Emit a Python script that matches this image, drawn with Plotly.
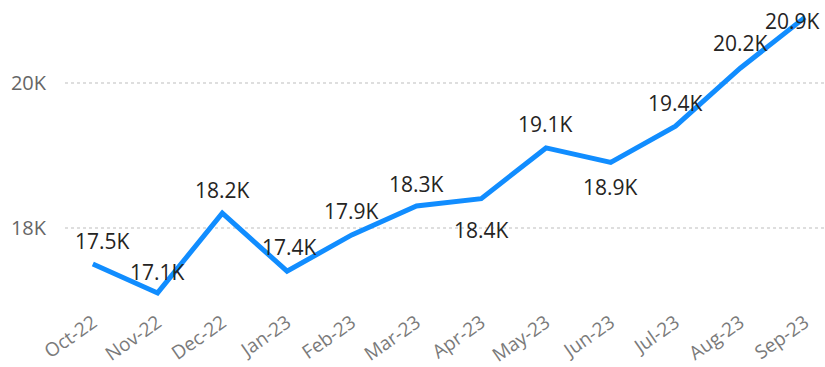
import plotly.graph_objects as go

months = ["Oct-22", "Nov-22", "Dec-22", "Jan-23", "Feb-23", "Mar-23",
          "Apr-23", "May-23", "Jun-23", "Jul-23", "Aug-23", "Sep-23"]
values_k = [17.5, 17.1, 18.2, 17.4, 17.9, 18.3, 18.4, 19.1, 18.9, 19.4, 20.2, 20.9]
label_shift = [23, 21, 23, 24, 24, 22, -31, 24, -25, 23, 25, -4]
label_xshift = [10, 0, 0, 2, 0, 0, 0, 0, 0, 0, 0, -12]
y_ticks = [18, 20]
y_tick_text = ["18K", "20K"]

FONT = "Open Sans"

fig = go.Figure()
fig.add_trace(go.Scatter(
    x=months, y=values_k, mode="lines",
    line=dict(color="#118DFF", width=5),
    hoverinfo="skip",
))

for m, v, s, dx in zip(months, values_k, label_shift, label_xshift):
    fig.add_annotation(
        x=m, y=v, text=f"{v:.1f}K", showarrow=False, yshift=s, xshift=dx,
        font=dict(family=FONT, size=21, color="#252423"),
    )

fig.update_layout(
    width=825, height=367,
    margin=dict(l=65, r=0, t=0, b=67),
    plot_bgcolor="white", paper_bgcolor="white",
    showlegend=False,
)
fig.update_xaxes(
    type="category", range=[-0.43, 11.31],
    tickangle=-35, tickfont=dict(family=FONT, size=19, color="#7A7A7A"),
    showgrid=False, showline=False, zeroline=False, ticks="",
    ticklabelstandoff=9,
)
fig.update_yaxes(
    range=[17.03, 21.14],
    tickvals=y_ticks, ticktext=y_tick_text,
    tickfont=dict(family=FONT, size=20, color="#666666"),
    showgrid=True, gridcolor="#DEDEDE", griddash="dot", gridwidth=1.5,
    zeroline=False, showline=False, ticks="", ticklabelstandoff=18,
)

fig.write_html("out.html")
